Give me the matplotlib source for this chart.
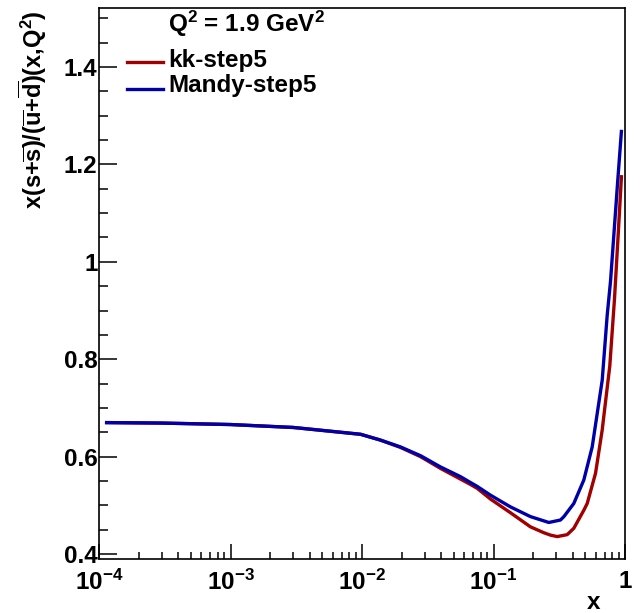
import math

import matplotlib

matplotlib.use("Agg")
import matplotlib.pyplot as plt
from matplotlib.ticker import FixedLocator, LogLocator, MultipleLocator, FuncFormatter, NullFormatter

plt.rcParams["font.family"] = ["Liberation Sans", "DejaVu Sans"]
plt.rcParams["font.weight"] = "bold"
plt.rcParams["mathtext.fontset"] = "custom"
plt.rcParams["mathtext.rm"] = "Liberation Sans:bold"
plt.rcParams["mathtext.bf"] = "Liberation Sans:bold"
plt.rcParams["mathtext.default"] = "regular"

# ── strange-sea ratio at Q^2 = 1.9 GeV^2 ─────────
x_kk = [1.11e-4, 3e-4, 1e-3, 3e-3, 0.00975, 0.01384, 0.01963, 0.0279, 0.0395,
        0.0561, 0.0668, 0.0752, 0.0949, 0.1345, 0.191, 0.241, 0.2714, 0.305,
        0.3635, 0.408, 0.486, 0.516, 0.597, 0.671, 0.690, 0.766, 0.832, 0.885,
        0.941]
r_kk = [0.670, 0.669, 0.666, 0.660, 0.646, 0.634, 0.619, 0.600, 0.576,
        0.554, 0.543, 0.535, 0.513, 0.485, 0.456, 0.444, 0.439, 0.436,
        0.440, 0.453, 0.490, 0.504, 0.566, 0.655, 0.683, 0.786, 0.924, 1.050,
        1.178]

x_mandy = [1.11e-4, 3e-4, 1e-3, 3e-3, 0.00975, 0.01384, 0.01963, 0.0279, 0.0395,
           0.0561, 0.0668, 0.0752, 0.0949, 0.1345, 0.191, 0.2634, 0.323, 0.343,
           0.408, 0.486, 0.563, 0.615, 0.671, 0.732, 0.776, 0.825, 0.877, 0.941]
r_mandy = [0.670, 0.669, 0.666, 0.660, 0.646, 0.634, 0.620, 0.602, 0.579,
           0.559, 0.547, 0.539, 0.521, 0.497, 0.477, 0.465, 0.470, 0.477,
           0.504, 0.552, 0.620, 0.689, 0.757, 0.890, 0.960, 1.060, 1.160, 1.271]

series = [("kk-step5", x_kk, r_kk, "#a00000"),
          ("Mandy-step5", x_mandy, r_mandy, "#0000a8")]

FS = 17.5

fig = plt.figure(figsize=(6.44, 6.13), dpi=100)
ax = fig.add_axes([99 / 644, 1 - 559 / 613, 526 / 644, 551 / 613])

for name, xs, ys, col in series:
    ax.plot(xs, ys, color=col, lw=2.4, solid_joinstyle="round", solid_capstyle="butt")

ax.set_xscale("log")
ax.set_xlim(1e-4, 1)
ax.set_ylim(0.39, 1.521)

# ROOT-like axis style: ticks inside, only on the left/bottom
ax.yaxis.set_major_locator(FixedLocator([0.4, 0.6, 0.8, 1.0, 1.2, 1.4]))
ax.yaxis.set_minor_locator(MultipleLocator(0.05))
ax.yaxis.set_major_formatter(FuncFormatter(lambda v, p: f"{v:g}"))
ax.xaxis.set_major_locator(LogLocator(base=10, numticks=10))
ax.xaxis.set_minor_locator(LogLocator(base=10, subs=range(2, 10), numticks=20))
ax.xaxis.set_minor_formatter(NullFormatter())


def _xfmt(v, p):
    e = int(round(math.log10(v)))
    return "1" if e == 0 else rf"$10^{{{e}}}$"


ax.xaxis.set_major_formatter(FuncFormatter(_xfmt))
ax.tick_params(axis="both", which="both", direction="in", top=False, right=False,
               width=1.1, labelsize=FS)
ax.tick_params(axis="y", which="major", length=13, pad=1)
ax.tick_params(axis="y", which="minor", length=6.5)
ax.tick_params(axis="x", which="major", length=10.5, pad=8)
ax.tick_params(axis="x", which="minor", length=5)
for sp in ax.spines.values():
    sp.set_linewidth(1.2)

fig.text(33 / 644, 1 - 10 / 613,
         r"x(s+$\overline{s}$)/($\overline{u}$+$\overline{d}$)(x,Q$^{2}$)",
         rotation=90, ha="center", va="top", fontsize=17)
fig.text(594 / 644, 1 - 609 / 613, "x", ha="center", va="baseline", fontsize=FS)

# legend block
ax.text(0.131, 0.956, r"Q$^{2}$ = 1.9 GeV$^{2}$", transform=ax.transAxes,
        ha="left", va="baseline", fontsize=FS)
for (name, xs, ys, col), yl, yt in zip(series, [0.902, 0.853], [0.893, 0.8475]):
    ax.plot([0.0532, 0.1217], [yl, yl], transform=ax.transAxes, color=col, lw=2.4)
    ax.text(0.131, yt, name, transform=ax.transAxes, ha="left", va="baseline",
            fontsize=FS)

fig.savefig("out.png", dpi=100)
